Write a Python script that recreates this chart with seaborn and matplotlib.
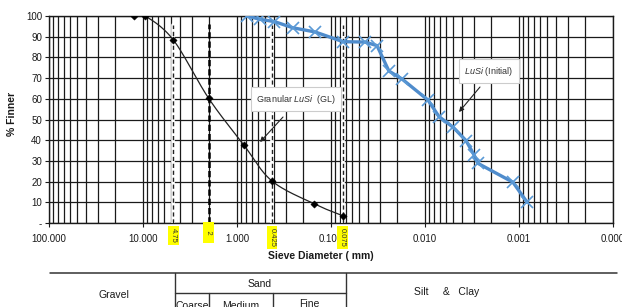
import numpy as np
import pandas as pd
import matplotlib
matplotlib.use("Agg")
import matplotlib.pyplot as plt
from matplotlib.lines import Line2D
import matplotlib.transforms as mtransforms
import seaborn as sns

# ---------------- data ----------------
gl_diam = [12.5, 9.5, 4.75, 2.0, 0.85, 0.425, 0.15, 0.075]
gl_pct = [100, 100, 88.4, 60.2, 37.8, 20.3, 9.2, 3.5]

init_diam = [0.78, 0.57, 0.40, 0.254, 0.148, 0.0745, 0.0435, 0.0324, 0.0242,
             0.0176, 0.0093, 0.0071, 0.0050, 0.00366, 0.00301, 0.00273,
             0.00116, 0.00082]
init_pct = [100, 98.4, 97.3, 94.3, 92.3, 87.6, 87.4, 85.7, 73.4,
            69.6, 59.4, 51.4, 46.2, 39.8, 32.9, 28.8, 19.7, 10]

sieve_sizes = [4.75, 2.0, 0.425, 0.075]
sieve_labels = ["4.75", "2", "0.425", "0.075"]

x_ticks = [100, 10, 1, 0.1, 0.01, 0.001, 0.0001]
x_tick_labels = ["100.000", "10.000", "1.000", "0.100", "0.010", "0.001", "0.000"]
y_ticks = [0, 10, 20, 30, 40, 50, 60, 70, 80, 90, 100]
y_tick_labels = ["-", "10", "20", "30", "40", "50", "60", "70", "80", "90", "100"]

# ---------------- style ----------------
sns.set_theme(style="white")
plt.rcParams["font.family"] = ["Liberation Sans", "DejaVu Sans"]
plt.rcParams["mathtext.fontset"] = "custom"
plt.rcParams["mathtext.it"] = "Liberation Sans:italic"
plt.rcParams["mathtext.rm"] = "Liberation Sans"

W, H = 622, 307
fig = plt.figure(figsize=(W / 100, H / 100), dpi=100)
ax = fig.add_axes([49 / W, 1 - 223 / H, (613 - 49) / W, (223 - 16) / H])

ax.set_xscale("log")
ax.set_xlim(100, 0.0001)
ax.set_ylim(0, 100)

# grid
ax.grid(True, which="both", axis="x", color="#1a1a1a", linewidth=0.9)
ax.grid(True, which="major", axis="y", color="#1a1a1a", linewidth=0.9)
ax.set_axisbelow(True)
for s in ax.spines.values():
    s.set_color("#1a1a1a")
    s.set_linewidth(1.0)

ax.set_xticks(x_ticks)
ax.set_xticklabels(x_tick_labels)
ax.set_yticks(y_ticks)
ax.set_yticklabels(y_tick_labels)
ax.tick_params(axis="both", which="major", labelsize=7, colors="#1a1a1a",
               length=3, width=0.8, direction="out", pad=2,
               bottom=True, left=True)
ax.tick_params(axis="x", which="minor", length=0)
ax.tick_params(axis="x", pad=5)

# sieve dashed lines
trans = mtransforms.blended_transform_factory(ax.transData, ax.transAxes)
for d, lab in zip(sieve_sizes, sieve_labels):
    if lab == "2":
        ax.plot([d, d], [0, 96], color="black", lw=1.8, ls=(0, (2.5, 1.2)), zorder=3)
        shown, y0 = "   2   ", -0.005
    else:
        ax.plot([d, d], [0, 95.5], color="white", lw=2.6, zorder=3)
        ax.plot([d, d], [0, 95.5], color="#222222", lw=1.0, ls=(0, (3, 2)), zorder=3)
        shown, y0 = lab, -0.025
    ax.text(d, y0, shown, transform=trans, rotation=270, ha="center", va="top",
            fontsize=5.5, color="#333333",
            bbox=dict(boxstyle="square,pad=0.25", fc="#ffff00", ec="none"))

# Granular LuSi (GL): smoothed line through the points (log-space Catmull-Rom)
lx = np.log10(np.array(gl_diam, dtype=float))
ly = np.array(gl_pct, dtype=float)
P = np.column_stack([lx, ly])
Pext = np.vstack([P[0] * 2 - P[1], P, P[-1] * 2 - P[-2]])
curve = []
t = np.linspace(0, 1, 25)[:, None]
for i in range(1, len(Pext) - 2):
    p0, p1, p2, p3 = Pext[i - 1], Pext[i], Pext[i + 1], Pext[i + 2]
    seg = 0.5 * ((2 * p1) + (-p0 + p2) * t + (2 * p0 - 5 * p1 + 4 * p2 - p3) * t ** 2
                 + (-p0 + 3 * p1 - 3 * p2 + p3) * t ** 3)
    curve.append(seg)
curve = np.vstack(curve)
ax.plot(10 ** curve[:, 0], curve[:, 1], color="#222222", lw=0.9, zorder=4)

gl_df = pd.DataFrame({"diam": gl_diam, "pct": gl_pct})
sns.scatterplot(data=gl_df, x="diam", y="pct", marker="D", s=14, color="black",
                edgecolor="black", linewidth=0.3, ax=ax, zorder=5, legend=False)

init_df = pd.DataFrame({"diam": init_diam, "pct": init_pct})
sns.lineplot(data=init_df, x="diam", y="pct", sort=False, color="#4f8ccc", lw=2.4,
             marker="x", markersize=8, markeredgewidth=1.2, markeredgecolor="#5b9ad6",
             ax=ax, zorder=5, legend=False)

ax.set_xlabel("")
ax.set_ylabel("")

# callouts
ax.text(0.236, 59.9, r"Granular $\it{LuSi}$  (GL)", fontsize=6.5, color="#333333",
        ha="center", va="center", zorder=6,
        bbox=dict(boxstyle="square,pad=0.6", fc="white", ec="#cccccc", lw=0.8))
ax.annotate("", xy=(0.569, 39.1), xytext=(0.324, 51.2), zorder=6,
            arrowprops=dict(arrowstyle="-|>", color="#222222", lw=0.8,
                            mutation_scale=7, shrinkA=0, shrinkB=0))
ax.text(0.00209, 73.4, r"$\it{LuSi}$ (Initial)", fontsize=6.5, color="#333333",
        ha="center", va="center", zorder=6,
        bbox=dict(boxstyle="square,pad=0.6", fc="white", ec="#cccccc", lw=0.8))
ax.annotate("", xy=(0.00435, 53.6), xytext=(0.0026, 65.7), zorder=6,
            arrowprops=dict(arrowstyle="-|>", color="#222222", lw=0.8,
                            mutation_scale=7, shrinkA=0, shrinkB=0))

# axis titles
fig.text(12 / W, 1 - 114 / H, "% Finner", rotation=90, ha="center", va="center",
         fontsize=7.5, fontweight="bold", color="#1a1a1a")
fig.text(321 / W, 1 - 256 / H, "Sieve Diameter ( mm)", ha="center", va="center",
         fontsize=7.5, fontweight="bold", color="#1a1a1a")

# classification table below the chart
def fline(x0, y0, x1, y1, lw=1.0):
    fig.add_artist(Line2D([x0 / W, x1 / W], [1 - y0 / H, 1 - y1 / H],
                          color="#333333", lw=lw, transform=fig.transFigure))

fline(50, 273, 617, 273, lw=1.1)
fline(175, 273, 175, 310)
fline(346, 273, 346, 310)
fline(175, 293, 346, 293)
fline(209, 293, 209, 310)
fline(273, 293, 273, 310)

def ftxt(x, y, s, va="center"):
    fig.text(x / W, 1 - y / H, s, ha="center", va=va, fontsize=7.5, color="#1a1a1a")

ftxt(114, 295, "Gravel")
ftxt(260, 284, "Sand")
ftxt(192, 301, "Coarse", va="top")
ftxt(241, 301, "Medium", va="top")
ftxt(309, 299, "Fine", va="top")
ftxt(447, 292, "Silt     &   Clay")

fig.savefig("out.png", dpi=100, facecolor="white")
